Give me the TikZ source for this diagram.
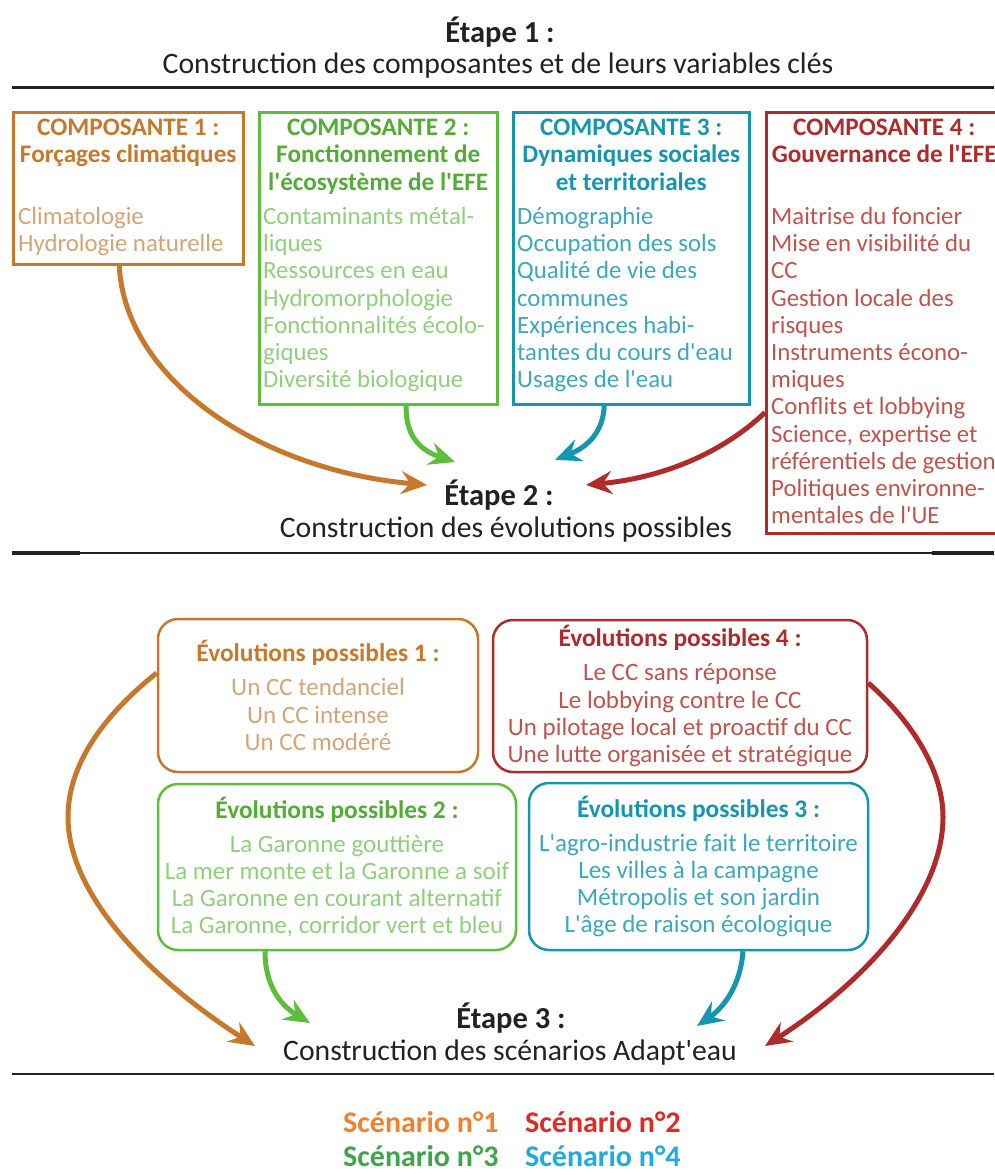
\documentclass[tikz,border=0pt]{standalone}
\usepackage{fontspec}
\setmainfont{Carlito}[Ligatures=TeXOff]
\usetikzlibrary{arrows.meta}
\definecolor{ink}{HTML}{222222}
\definecolor{orc}{HTML}{C8782A}
\definecolor{orcl}{HTML}{D6A474}
\definecolor{grc}{HTML}{5CBF3C}
\definecolor{grcl}{HTML}{8FD07A}
\definecolor{tlc}{HTML}{1596B0}
\definecolor{tlcl}{HTML}{3AA8BE}
\definecolor{rdc}{HTML}{B02A2A}
\definecolor{rdcl}{HTML}{C2534C}
\definecolor{sc1}{HTML}{F0822D}
\definecolor{sc2}{HTML}{E02A26}
\definecolor{sc3}{HTML}{3FA54A}
\definecolor{sc4}{HTML}{1EAAE2}
\newcommand\evotitlefont{\fontsize{25.4}{27.2}\selectfont\bfseries}
\begin{document}
\begin{tikzpicture}[x=1pt, y=-1pt,
    every node/.style={inner sep=0pt},
    etape/.style={font=\fontsize{30.5}{34}\selectfont\bfseries, text=ink},
    sous/.style={font=\fontsize{29.7}{33}\selectfont, text=ink},
    compbox/.style={draw, line width=2.5pt, anchor=north west},
    comptitle/.style={anchor=north, align=center, font=\fontsize{25.2}{27.2}\selectfont\bfseries},
    compbody/.style={anchor=north west, align=left, font=\fontsize{24.8}{27.2}\selectfont},
    evobox/.style={draw, line width=2.5pt, rounded corners=20pt, align=center, font=\fontsize{25}{27.2}\selectfont},
    arr/.style={line width=5pt, -{Stealth[length=26pt, width=23pt, inset=9pt]}},
    scen/.style={anchor=west, font=\fontsize{30}{34}\selectfont\bfseries}
]
\useasboundingbox (0,0) rectangle (994,1175);

\node[etape] (et1) at (500,32) {Étape 1 :};
\node[sous] (so1) at (498,66) {Construction des composantes et de leurs variables clés};
\draw[line width=3pt, ink] (12,87) -- (994,87);

\node[compbox, draw=orc, minimum width=230pt, minimum height=152pt] (c1) at (12,111) {};
\node[compbox, draw=grc, minimum width=238pt, minimum height=292pt] (c2) at (258,111) {};
\node[compbox, draw=tlc, minimum width=236pt, minimum height=292pt] (c3) at (512,111) {};
\node[compbox, draw=rdc, minimum width=236pt, minimum height=421pt] (c4) at (765,111) {};

\node[comptitle, text=orc] (c1t) at ([yshift=-8pt]c1.north) {COMPOSANTE 1 :\\Forçages climatiques};
\node[comptitle, text=grc!90!black] (c2t) at ([yshift=-8pt]c2.north) {COMPOSANTE 2 :\\Fonctionnement de\\l'écosystème de l'EFE};
\node[comptitle, text=tlc] (c3t) at ([yshift=-8pt]c3.north) {COMPOSANTE 3 :\\Dynamiques sociales\\et territoriales};
\node[comptitle, text=rdc] (c4t) at ([yshift=-8pt]c4.north) {COMPOSANTE 4 :\\Gouvernance de l'EFE};

\node[compbody, text=orcl] (c1b) at ([xshift=6pt, yshift=-96pt]c1.north west) {Climatologie\\Hydrologie naturelle};
\node[compbody, text=grcl] (c2b) at ([xshift=5pt, yshift=-96pt]c2.north west) {Contaminants métal-\\liques\\Ressources en eau\\Hydromorphologie\\Fonctionnalités écolo-\\giques\\Diversité biologique};
\node[compbody, text=tlcl] (c3b) at ([xshift=5pt, yshift=-96pt]c3.north west) {Démographie\\Occupation des sols\\Qualité de vie des\\communes\\Expériences habi-\\tantes du cours d'eau\\Usages de l'eau};
\node[compbody, text=rdcl] (c4b) at ([xshift=6pt, yshift=-96pt]c4.north west) {Maitrise du foncier\\Mise en visibilité du\\CC\\Gestion locale des\\risques\\Instruments écono-\\miques\\Conflits et lobbying\\Science, expertise et\\référentiels de gestion\\Politiques environne-\\mentales de l'UE};

\node[etape] (et2) at (499,495) {Étape 2 :};
\node[sous] (so2) at (506,530) {Construction des évolutions possibles};
\coordinate (t1) at (427,485);
\coordinate (t2) at (455,462);
\coordinate (t3) at (555,460);
\coordinate (t4) at (586,485);
\draw[arr, orc] ([xshift=-9pt]c1.south) .. controls (125,380) and (260,470) .. (t1);
\draw[arr, grc] ([xshift=28pt]c2.south) .. controls (405,440) and (425,452) .. (t2);
\draw[arr, tlc] ([xshift=-27pt]c3.south) .. controls (603,438) and (580,450) .. (t3);
\draw[arr, rdc] ([yshift=122pt]c4.south west) .. controls (720,455) and (660,478) .. (t4);
\draw[line width=1.5pt, ink] (12,553) -- (994,553);
\draw[line width=3.5pt, ink] (12,553) -- (80,553);
\draw[line width=3.5pt, ink] (932,553) -- (994,553);

\node[evobox, draw=orc, text=orcl, minimum width=320pt, minimum height=153pt] (ev1) at (318,695.5)
  {\textcolor{orc}{\evotitlefont Évolutions possibles 1 :}\\[7pt]Un CC tendanciel\\Un CC intense\\Un CC modéré};
\node[evobox, draw=rdc, text=rdcl, minimum width=374pt, minimum height=152pt] (ev4) at (680,696)
  {\textcolor{rdc}{\evotitlefont Évolutions possibles 4 :}\\[7pt]Le CC sans réponse\\Le lobbying contre le CC\\Un pilotage local et proactif du CC\\Une lutte organisée et stratégique};
\node[evobox, draw=grc, text=grcl, minimum width=358pt, minimum height=166pt] (ev2) at (337,867)
  {\textcolor{grc!90!black}{\evotitlefont Évolutions possibles 2 :}\\[7pt]La Garonne gouttière\\La mer monte et la Garonne a soif\\La Garonne en courant alternatif\\La Garonne, corridor vert et bleu};
\node[evobox, draw=tlc, text=tlcl, minimum width=339pt, minimum height=167pt] (ev3) at (698.5,866.5)
  {\textcolor{tlc}{\evotitlefont Évolutions possibles 3 :}\\[7pt]L'agro-industrie fait le territoire\\Les villes à la campagne\\Métropolis et son jardin\\L'âge de raison écologique};

\node[etape] (et3) at (511,1018) {Étape 3 :};
\node[sous] (so3) at (510,1053) {Construction des scénarios Adapt'eau};
\coordinate (t5) at (255,1046);
\coordinate (t6) at (310,1023);
\coordinate (t7) at (697,1026);
\coordinate (t8) at (765,1046);
\draw[arr, orc] ([yshift=22.5pt]ev1.west) .. controls (110,710) and (68,760) .. (68,817)
  .. controls (68,900) and (160,985) .. (t5);
\draw[arr, rdc] ([yshift=13pt]ev4.east) .. controls (905,715) and (943,765) .. (943,817)
  .. controls (943,900) and (860,985) .. (t8);
\draw[arr, grc] ([xshift=-72pt]ev2.south) .. controls (265,990) and (285,1008) .. (t6);
\draw[arr, tlc] ([xshift=44.5pt]ev3.south) .. controls (740,990) and (720,1010) .. (t7);
\draw[line width=2.5pt, ink] (12,1074) -- (994,1074);

\node[scen, text=sc1] (s1) at (343,1122) {Scénario n°1};
\node[scen, text=sc2] (s2) at (525,1122) {Scénario n°2};
\node[scen, text=sc3] (s3) at (343,1156) {Scénario n°3};
\node[scen, text=sc4] (s4) at (525,1156) {Scénario n°4};
\end{tikzpicture}
\end{document}
